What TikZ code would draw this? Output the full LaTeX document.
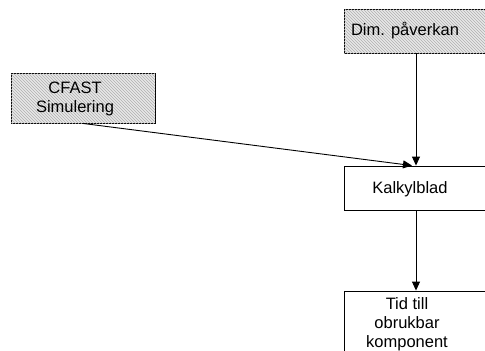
\documentclass[tikz,border=0pt]{standalone}
\usepackage{fontspec}
\setmainfont{Liberation Sans}
\usetikzlibrary{arrows.meta, positioning, patterns}
\definecolor{chatch}{RGB}{175, 175, 175}
\definecolor{cfill}{RGB}{232, 232, 232}
\tikzset{
  box/.style={draw=black, line width=0.9pt, minimum width=144pt, minimum height=44pt,
              inner sep=0pt},
  hatch/.style={fill=cfill, postaction={pattern=north west lines, pattern color=chatch}},
  txt/.style={align=center, inner sep=0pt, font=\fontsize{16.5}{19}\selectfont},
  arr/.style={-{Triangle[length=9pt, width=8pt]}, line width=0.9pt, draw=black},
}

\begin{document}
\begin{tikzpicture}[x=1pt, y=-1pt]
\clip (0,0) rectangle (485,351);
\fill[white] (0,0) rectangle (485,351);

% ---------- boxes ----------
\node[box, hatch] (dim) at (416,31) {};
\node[txt] (dimtxt) at ([xshift=-11pt]dim.center) {Dim. påverkan};

\node[box, hatch, minimum height=50pt] (cfast) at (83,98) {};
\node[txt] (cfasttxt) at ([xshift=-8pt, yshift=-1pt]cfast.center) {CFAST\\Simulering};

\node[box, fill=white] (kalk) at (416,188) {};
\node[txt] (kalktxt) at ([xshift=-6pt, yshift=-1pt]kalk.center) {Kalkylblad};

\node[box, fill=white, minimum height=70pt] (tid) at (416,326) {};
\node[txt] (tidtxt) at ([xshift=-9pt, yshift=2pt]tid.center) {Tid till\\obrukbar\\komponent};

% ---------- connectors ----------
\draw[arr] (dim) -- (kalk);
\draw[arr] (cfast.south) -- ([xshift=-4pt]kalk.north);
\draw[arr] (kalk) -- (tid);

\end{tikzpicture}
\end{document}
